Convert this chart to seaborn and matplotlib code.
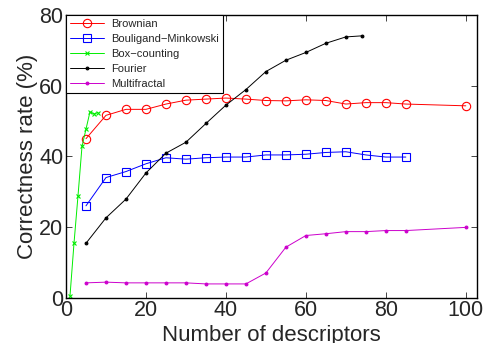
import pandas as pd
import matplotlib
matplotlib.use('Agg')
import matplotlib.pyplot as plt
import seaborn as sns

# values
brownian_x = [5, 10, 15, 20, 25, 30, 35, 40, 45, 50, 55, 60, 65, 70, 75, 80, 85, 100]
brownian_y = [45.0, 51.6, 53.3, 53.3, 54.8, 55.9, 56.2, 56.5, 56.2, 55.8, 55.7, 56.0, 55.8, 54.8, 55.2, 55.2, 54.8, 54.3]

bouligand_x = [5, 10, 15, 20, 25, 30, 35, 40, 45, 50, 55, 60, 65, 70, 75, 80, 85]
bouligand_y = [26.0, 34.0, 35.7, 37.9, 39.6, 39.2, 39.6, 39.8, 39.8, 40.4, 40.4, 40.6, 41.1, 41.3, 40.4, 39.8, 39.8]

box_x = [1, 2, 3, 4, 5, 6, 7, 8]
box_y = [0.5, 15.4, 28.8, 42.8, 47.7, 52.6, 52.0, 52.4]

fourier_x = [5, 10, 15, 20, 25, 30, 35, 40, 45, 50, 55, 60, 65, 70, 74]
fourier_y = [15.4, 22.6, 27.9, 35.3, 40.9, 44.0, 49.3, 54.5, 58.9, 64.0, 67.2, 69.4, 72.0, 73.8, 74.1]

multi_x = [5, 10, 15, 20, 25, 30, 35, 40, 45, 50, 55, 60, 65, 70, 75, 80, 85, 100]
multi_y = [4.2, 4.4, 4.2, 4.2, 4.2, 4.2, 3.9, 3.9, 3.9, 7.0, 14.3, 17.6, 18.1, 18.7, 18.7, 19.0, 19.0, 19.9]

series = [
    ('Brownian', brownian_x, brownian_y, '#ff0000', 'o', 6, 'none'),
    ('Bouligand\u2212Minkowski', bouligand_x, bouligand_y, '#0000ff', 's', 6, 'none'),
    ('Box\u2212counting', box_x, box_y, '#00ee00', 'x', 3, None),
    ('Fourier', fourier_x, fourier_y, '#000000', '.', 4, None),
    ('Multifractal', multi_x, multi_y, '#cc00cc', '.', 4, None),
]

sns.set_style('ticks')
plt.rcParams['font.family'] = ['Liberation Sans', 'DejaVu Sans']

fig = plt.figure(figsize=(4.85, 3.43), dpi=100)
ax = fig.add_axes([66 / 485, 1 - 297.7 / 343, 411 / 485, 282.7 / 343])

for name, xs, ys, color, marker, ms, mfc in series:
    df = pd.DataFrame({'x': xs, 'y': ys})
    kw = dict(markerfacecolor=mfc) if mfc else {}
    sns.lineplot(data=df, x='x', y='y', ax=ax, color=color, marker=marker,
                 markersize=ms, markeredgecolor=color, markeredgewidth=0.8,
                 linewidth=0.7, label=name, **kw)

ax.set_xlim(0, 102.8)
ax.set_ylim(0, 80)
ax.set_xticks([0, 20, 40, 60, 80, 100])
ax.set_yticks([0, 20, 40, 60, 80])
ax.tick_params(direction='in', top=True, right=True, length=4, width=0.6,
               labelsize=15.5, pad=2)
for s in ax.spines.values():
    s.set_linewidth(1.0)
    s.set_color('black')

ax.set_xlabel('Number of descriptors', fontsize=16, labelpad=2.5)
ax.set_ylabel('Correctness rate (%)', fontsize=16, labelpad=1)

leg = ax.legend(loc='upper left', borderaxespad=0, fontsize=8, fancybox=False,
                framealpha=1, edgecolor='black', handlelength=3.1,
                labelspacing=0.45, borderpad=0.35, handletextpad=0.6)
leg.get_frame().set_linewidth(0.8)

fig.savefig('out.png', dpi=100)
